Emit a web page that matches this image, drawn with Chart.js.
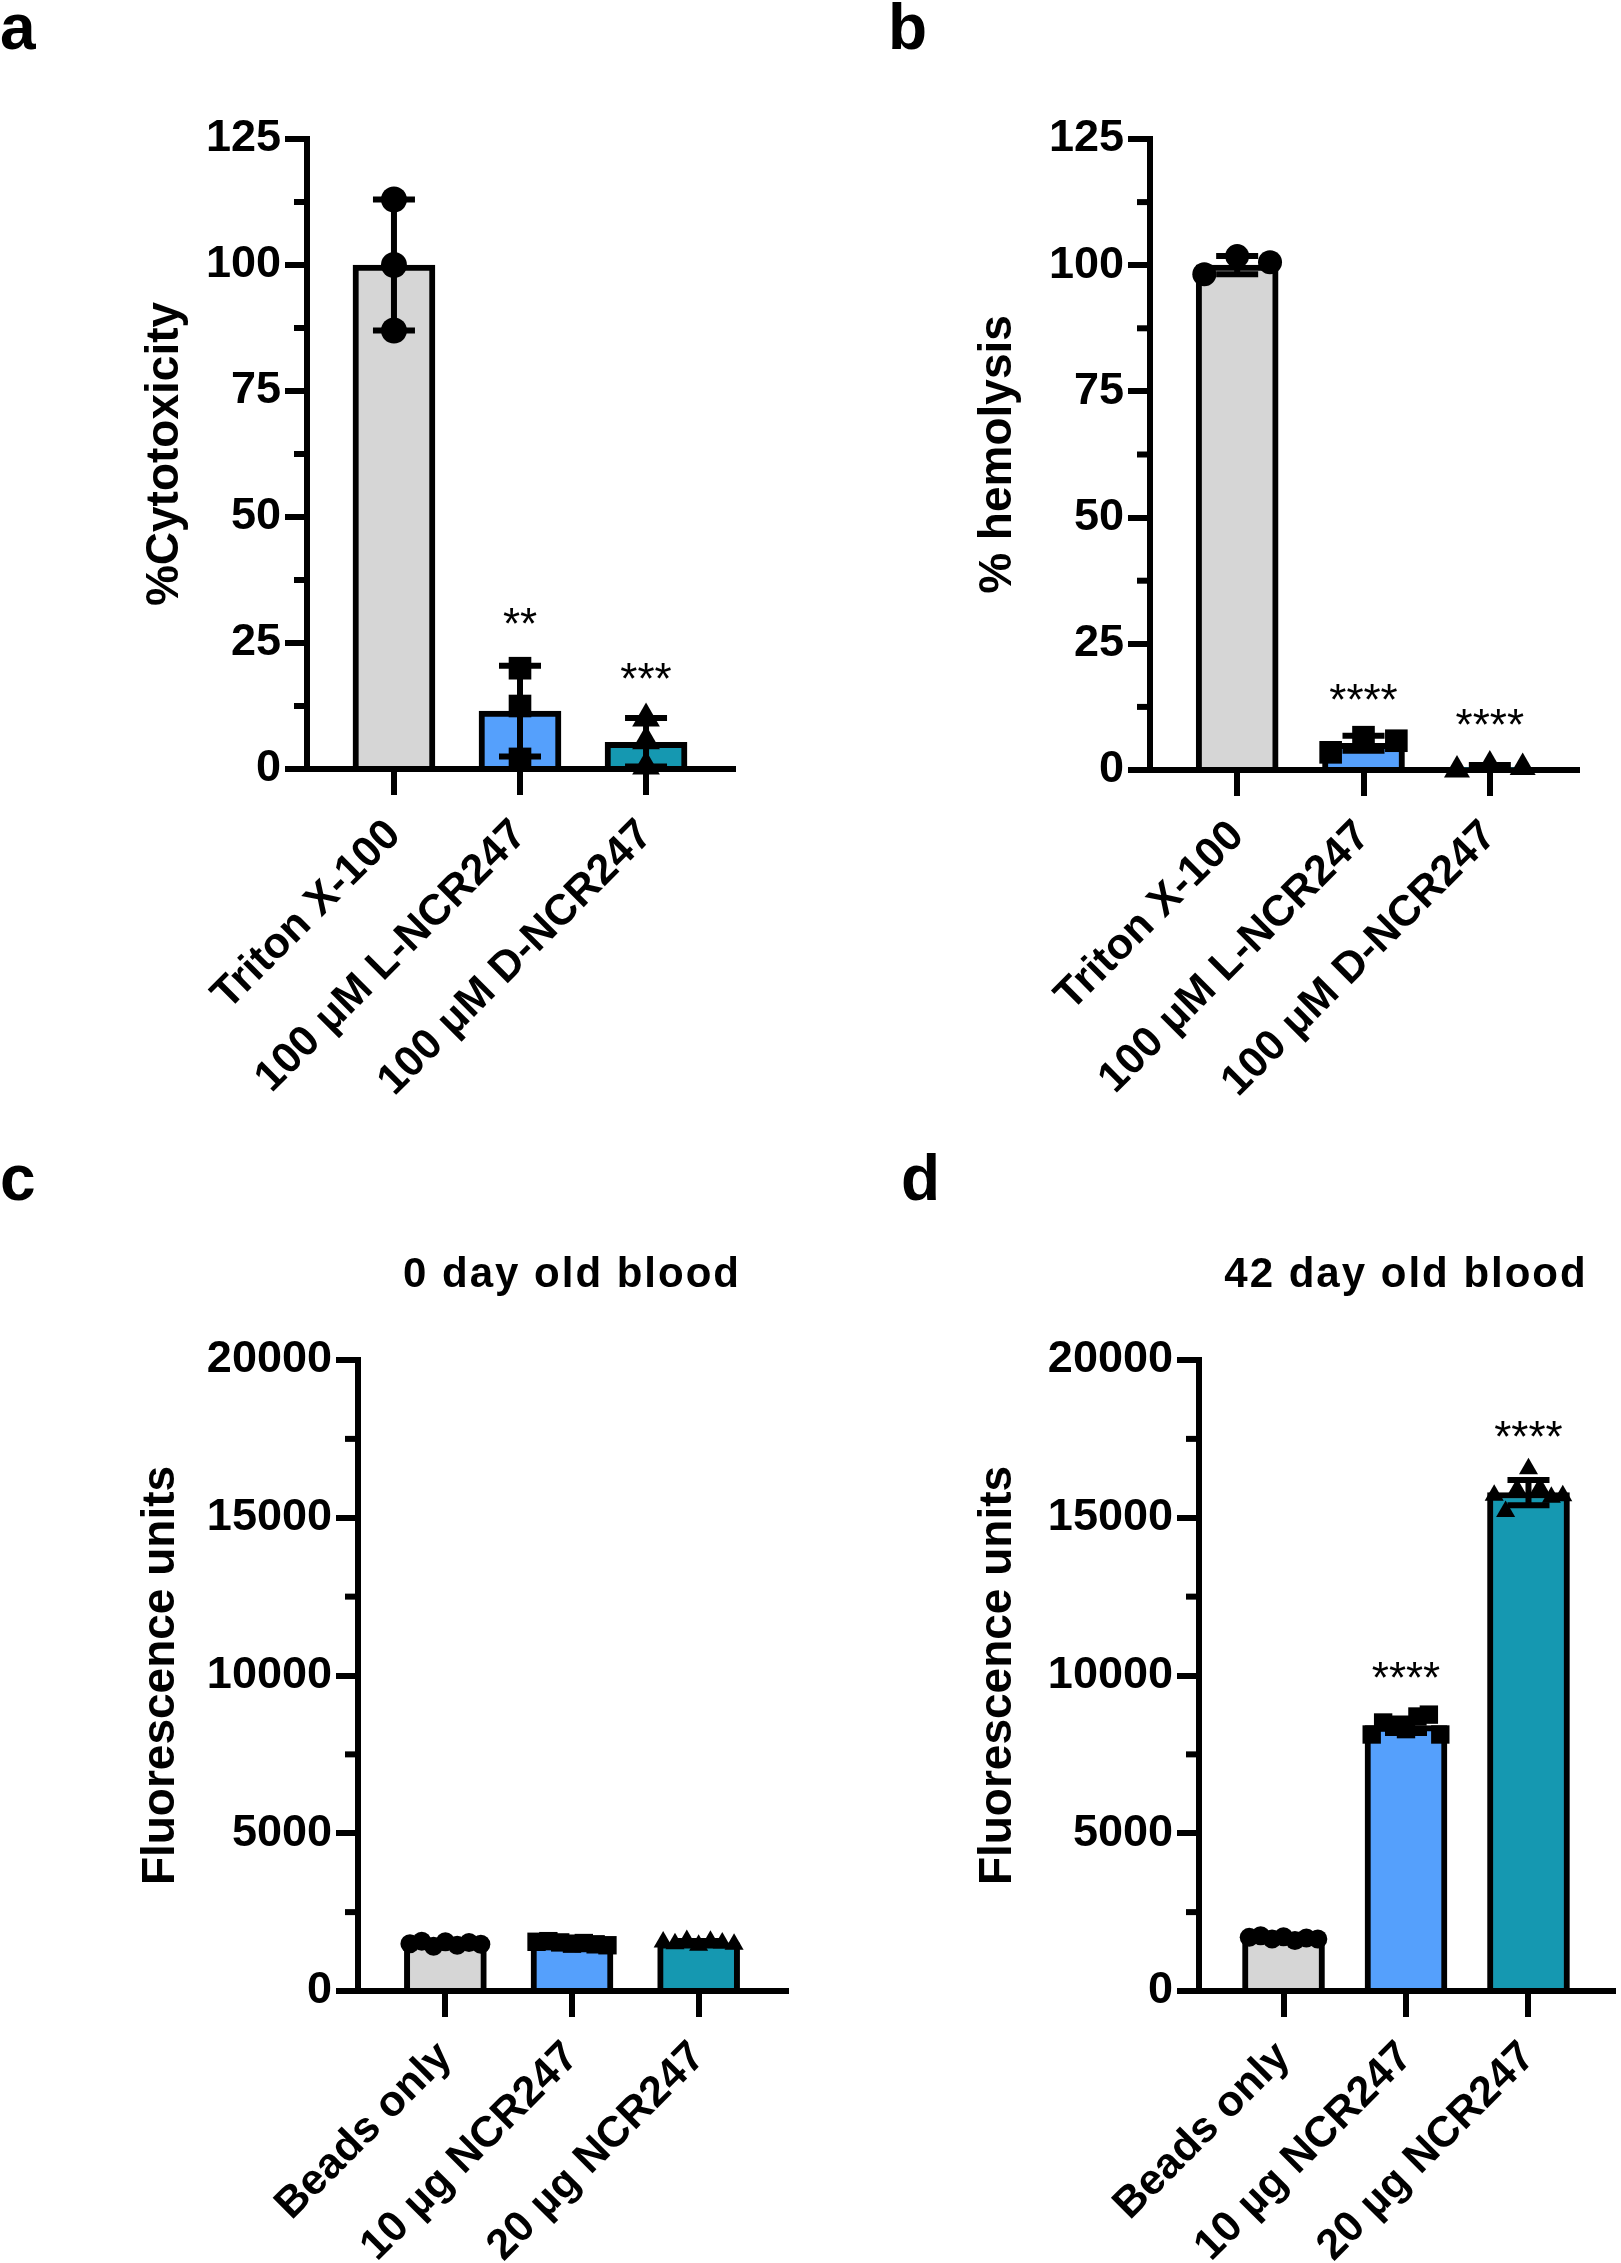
<!DOCTYPE html>
<html>
<head>
<meta charset="utf-8">
<script src="https://cdn.jsdelivr.net/npm/chart.js@4.4.1/dist/chart.umd.min.js"></script>
<style>
  html, body { margin: 0; padding: 0; background: #fff; overflow: hidden; }
  #page { position: relative; width: 1621px; height: 2263px; overflow: hidden; }
  canvas { position: absolute; }
</style>
</head>
<body>
<div id="page">
  <canvas id="chartA" width="810" height="1130" style="left:0;top:0"></canvas>
  <canvas id="chartB" width="811" height="1130" style="left:810px;top:0"></canvas>
  <canvas id="chartC" width="810" height="1133" style="left:0;top:1130px"></canvas>
  <canvas id="chartD" width="816" height="1133" style="left:810px;top:1130px"></canvas>
</div>
<script>
const FONT = '"Liberation Sans", Arial, Helvetica, sans-serif';
const barColors = ['#d6d6d6', '#55a0fc', '#1598b1'];
const markerStyles = ['circle', 'rect', 'triangle'];

// a - cytotoxicity
const cytoLabels = ['Triton X-100', '100 μM L-NCR247', '100 μM D-NCR247'];
const cytoMeans = [100, 11.5, 5.3];
const cytoSD = [13, 9, 4.8];
const cytoPoints = [[113, 100, 87], [20, 12.5, 2], [10, 5.5, 0.5]];
const cytoStars = ['', '**', '***'];
const cytoStarLevel = [null, 30.7, 19.8];
const pctTicks = [0, 25, 50, 75, 100, 125];

// b - hemolysis
const hemoLabels = ['Triton X-100', '100 μM L-NCR247', '100 μM D-NCR247'];
const hemoMeans = [100, 5.3, 0.5];
const hemoSD = [1.8, 1.5, 0.5];
const hemoPoints = [[98.2, 101.8, 100.6], [3.5, 6.5, 5.8], [0, 1, 0.5]];
const hemoStars = ['', '****', '****'];
const hemoStarLevel = [null, 15.8, 10.8];

// c - 0 day old blood
const beadLabels = ['Beads only', '10 µg NCR247', '20 µg NCR247'];
const day0Means = [1504, 1519, 1526];
const day0SD = [60, 50, 55];
const day0Points = [
  [1500, 1580, 1420, 1560, 1450, 1540, 1480],
  [1560, 1580, 1540, 1500, 1520, 1480, 1450],
  [1550, 1500, 1600, 1450, 1580, 1520, 1480]
];
const day0Stars = ['', '', ''];
const day0StarLevel = [null, null, null];
const fluoTicks = [0, 5000, 10000, 15000, 20000];

// d - 42 day old blood
const day42Means = [1679, 8410, 15800];
const day42SD = [50, 230, 400];
const day42Points = [
  [1700, 1750, 1650, 1720, 1600, 1680, 1650],
  [8130, 8510, 8380, 8300, 8700, 8760, 8130],
  [15710, 15200, 15900, 16550, 15950, 15650, 15700]
];
const day42Stars = ['', '****', '****'];
const day42StarLevel = [null, 10250, 17870];

function makeExtras(p) {
  return {
    id: 'extras',
    afterDatasetDraw(chart, args) {
      if (args.meta.type !== 'bar') return;
      const { ctx, scales: { x, y } } = chart;
      ctx.save();
      ctx.strokeStyle = '#000';
      ctx.lineWidth = 6;
      p.means.forEach((m, i) => {
        const px = x.getPixelForValue(i);
        const top = y.getPixelForValue(m + p.sds[i]);
        const bot = y.getPixelForValue(Math.max(m - p.sds[i], 0));
        ctx.beginPath();
        ctx.moveTo(px, top); ctx.lineTo(px, bot);
        ctx.moveTo(px - 21, top); ctx.lineTo(px + 21, top);
        ctx.moveTo(px - 21, bot); ctx.lineTo(px + 21, bot);
        ctx.stroke();
      });
      ctx.restore();
    },
    afterDraw(chart) {
      const { ctx, chartArea, scales: { x, y } } = chart;
      ctx.save();
      // minor ticks halfway between the major ones
      ctx.strokeStyle = '#000';
      ctx.lineWidth = 6;
      for (let i = 0; i < p.yTicks.length - 1; i++) {
        const py = y.getPixelForValue((p.yTicks[i] + p.yTicks[i + 1]) / 2);
        ctx.beginPath();
        ctx.moveTo(chartArea.left - 13, py);
        ctx.lineTo(chartArea.left, py);
        ctx.stroke();
      }
      // significance stars
      ctx.fillStyle = '#000';
      ctx.textAlign = 'center';
      ctx.textBaseline = 'alphabetic';
      ctx.font = '44px ' + FONT;
      p.stars.forEach((s, i) => {
        if (!s) return;
        ctx.fillText(s, x.getPixelForValue(i), y.getPixelForValue(p.starLevel[i]) + 25);
      });
      // panel title
      if (p.title) {
        ctx.font = 'bold 42px ' + FONT;
        ctx.letterSpacing = '2px';
        ctx.fillText(p.title, (chartArea.left + chartArea.right) / 2, p.titleY);
        ctx.letterSpacing = '0px';
      }
      // panel letter
      ctx.textAlign = 'left';
      ctx.font = 'bold 64px ' + FONT;
      ctx.fillText(p.letter, p.letterX, p.letterY);
      ctx.restore();
    }
  };
}

function makePanel(id, p) {
  const canvas = document.getElementById(id);
  const H = canvas.height;
  const n = p.labels.length;

  const datasets = [{
    type: 'bar',
    data: p.means.map((m, i) => ({ x: i, y: m })),
    backgroundColor: barColors,
    borderColor: '#000',
    borderWidth: 6,
    borderSkipped: 'start',
    barThickness: 82,
    grouped: false,
    order: 5
  }];

  p.points.forEach((vals, i) => {
    datasets.push({
      type: 'scatter',
      data: vals.map((v, j) => ({
        x: i + (vals.length > 1 ? p.spread * (2 * j / (vals.length - 1) - 1) : 0),
        y: v
      })),
      pointStyle: markerStyles[i],
      pointRadius: p.radius[i],
      backgroundColor: '#000',
      borderColor: '#000',
      borderWidth: 0,
      clip: false,
      order: 0
    });
  });

  new Chart(canvas, {
    type: 'bar',
    data: { datasets },
    plugins: [makeExtras(p)],
    options: {
      responsive: false,
      animation: false,
      devicePixelRatio: 1,
      layout: { padding: { left: 0, top: p.top, right: p.padRight, bottom: 0 } },
      plugins: { legend: { display: false }, tooltip: { enabled: false }, title: { display: false } },
      scales: {
        x: {
          type: 'linear',
          min: -0.69,
          max: n - 1 + 0.69,
          offset: false,
          afterBuildTicks: s => { s.ticks = p.labels.map((_, i) => ({ value: i })); },
          afterFit: s => { s.height = H - p.bottom; s.paddingLeft = 0; s.paddingRight = 0; },
          ticks: {
            autoSkip: false,
            minRotation: 45,
            maxRotation: 45,
            padding: 15,
            color: '#000',
            font: { family: FONT, size: 43, weight: 'bold' },
            callback: v => p.labels[Math.round(v)]
          },
          grid: { display: true, drawOnChartArea: false, drawTicks: true, tickLength: 26, lineWidth: 6, color: '#000', offset: false },
          border: { display: true, width: 6, color: '#000' }
        },
        y: {
          type: 'linear',
          min: 0,
          max: p.yTicks[p.yTicks.length - 1],
          afterBuildTicks: s => { s.ticks = p.yTicks.map(v => ({ value: v })); },
          afterFit: s => { s.width = p.axisLeft; },
          ticks: {
            padding: 4,
            color: '#000',
            font: { family: FONT, size: 45, weight: 'bold' },
            callback: v => String(v)
          },
          grid: { display: true, drawOnChartArea: false, drawTicks: true, tickLength: 22, lineWidth: 6, color: '#000' },
          border: { display: true, width: 6, color: '#000' },
          title: {
            display: true,
            text: p.yTitle,
            color: '#000',
            font: { family: FONT, size: 46, weight: 'bold' },
            padding: { top: p.titlePad, bottom: 0 }
          }
        }
      }
    }
  });
}

makePanel('chartA', {
  labels: cytoLabels, means: cytoMeans, sds: cytoSD, points: cytoPoints,
  stars: cytoStars, starLevel: cytoStarLevel, yTicks: pctTicks,
  yTitle: '%Cytotoxicity', letter: 'a', letterX: 0, letterY: 49,
  axisLeft: 307, top: 139, bottom: 769, padRight: 77, titlePad: 138,
  spread: 0, radius: [13, 16, 16]
});

makePanel('chartB', {
  labels: hemoLabels, means: hemoMeans, sds: hemoSD, points: hemoPoints,
  stars: hemoStars, starLevel: hemoStarLevel, yTicks: pctTicks,
  yTitle: '% hemolysis', letter: 'b', letterX: 78, letterY: 49,
  axisLeft: 340, top: 139, bottom: 770, padRight: 44, titlePad: 161,
  spread: 0.26, radius: [12, 16, 15]
});

makePanel('chartC', {
  labels: beadLabels, means: day0Means, sds: day0SD, points: day0Points,
  stars: day0Stars, starLevel: day0StarLevel, yTicks: fluoTicks,
  yTitle: 'Fluorescence units', title: '0 day old blood', titleY: 157,
  letter: 'c', letterX: 0, letterY: 70,
  axisLeft: 358, top: 230, bottom: 861, padRight: 24, titlePad: 134,
  spread: 0.28, radius: [9.5, 13, 11]
});

makePanel('chartD', {
  labels: beadLabels, means: day42Means, sds: day42SD, points: day42Points,
  stars: day42Stars, starLevel: day42StarLevel, yTicks: fluoTicks,
  yTitle: 'Fluorescence units', title: '42 day old blood', titleY: 157,
  letter: 'd', letterX: 91, letterY: 70,
  axisLeft: 389, top: 230, bottom: 861, padRight: 3, titlePad: 161,
  spread: 0.28, radius: [9.5, 13, 11]
});
</script>
</body>
</html>
